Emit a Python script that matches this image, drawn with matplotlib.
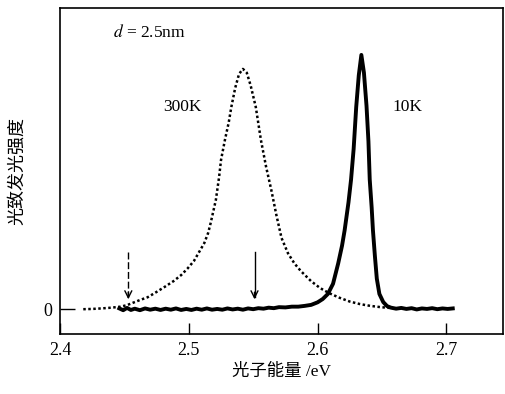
import numpy as np
import matplotlib.pyplot as plt

plt.rcParams['font.family'] = ['Liberation Serif', 'Noto Sans CJK SC']
plt.rcParams['mathtext.fontset'] = 'stix'

# 300K spectrum (dotted), intensity normalised to 10K peak
x_300 = [2.418, 2.425, 2.432, 2.44, 2.447, 2.452, 2.457, 2.462, 2.468, 2.474,
         2.481, 2.488, 2.494, 2.499, 2.504, 2.508, 2.512, 2.515, 2.517, 2.521,
         2.5235, 2.525, 2.528, 2.531, 2.533, 2.536, 2.539, 2.542, 2.545, 2.548,
         2.552, 2.556, 2.560, 2.564, 2.568, 2.572, 2.577, 2.582, 2.587, 2.595,
         2.602, 2.609, 2.617, 2.625, 2.633, 2.641, 2.649, 2.656]
y_300 = [0.000, 0.001, 0.003, 0.006, 0.010, 0.016, 0.026, 0.036, 0.047, 0.065,
         0.087, 0.110, 0.134, 0.160, 0.190, 0.225, 0.260, 0.300, 0.340, 0.430,
         0.520, 0.587, 0.665, 0.735, 0.795, 0.870, 0.925, 0.945, 0.930, 0.880,
         0.795, 0.665, 0.560, 0.470, 0.370, 0.280, 0.220, 0.180, 0.150, 0.110,
         0.083, 0.063, 0.045, 0.030, 0.020, 0.013, 0.008, 0.005]

# 10K spectrum (solid, noisy baseline)
x_10 = [2.446, 2.449, 2.452, 2.455, 2.458, 2.462, 2.466, 2.470, 2.474, 2.478,
        2.482, 2.486, 2.490, 2.494, 2.498, 2.502, 2.506, 2.510, 2.514, 2.518,
        2.522, 2.526, 2.530, 2.534, 2.538, 2.542, 2.546, 2.550, 2.554, 2.558,
        2.562, 2.566, 2.570, 2.575, 2.580, 2.585, 2.590, 2.595, 2.600, 2.604,
        2.608, 2.612, 2.616, 2.619, 2.621, 2.624, 2.626, 2.628, 2.630, 2.632,
        2.634, 2.636, 2.638, 2.6395, 2.6405, 2.642, 2.643, 2.6445, 2.646, 2.648,
        2.651, 2.654, 2.657, 2.661, 2.665, 2.669, 2.673, 2.677, 2.681, 2.685,
        2.689, 2.693, 2.697, 2.701, 2.705]
y_10 = [0.003, -0.004, 0.005, -0.003, 0.002, -0.004, 0.003, -0.002, 0.002, -0.003,
        0.002, -0.002, 0.003, -0.003, 0.001, -0.003, 0.002, -0.002, 0.003, -0.002,
        0.001, -0.002, 0.003, -0.001, 0.002, -0.002, 0.003, 0.000, 0.004, 0.002,
        0.006, 0.004, 0.008, 0.007, 0.010, 0.010, 0.013, 0.017, 0.027, 0.040,
        0.060, 0.100, 0.180, 0.250, 0.310, 0.420, 0.510, 0.630, 0.795, 0.920,
        1.000, 0.930, 0.800, 0.660, 0.510, 0.400, 0.310, 0.210, 0.120, 0.060,
        0.028, 0.012, 0.006, 0.002, 0.005, 0.001, 0.004, -0.001, 0.003, 0.001,
        0.004, 0.000, 0.003, 0.001, 0.003]

arrow_x = [2.453, 2.551]
arrow_styles = ['--', '-']
arrow_top = 0.225
arrow_tip = 0.028

xticks = [2.4, 2.5, 2.6, 2.7]

fig = plt.figure(figsize=(5.05, 3.94), dpi=100)
ax = fig.add_axes([0.119, 0.152, 0.877, 0.828])

ax.plot(x_300, y_300, color='black', linestyle=(0, (1, 1)), linewidth=1.8)
ax.plot(x_10, y_10, color='black', linewidth=2.8, solid_joinstyle='round')

for xa, ls in zip(arrow_x, arrow_styles):
    ax.plot([xa, xa], [arrow_top, arrow_tip + 0.02], color='black',
            linestyle=ls, linewidth=1.0, dashes=(5, 2) if ls == '--' else ())
    ax.annotate('', xy=(xa, arrow_tip), xytext=(xa, arrow_tip + 0.05),
                arrowprops=dict(arrowstyle='->,head_length=0.5,head_width=0.25',
                                color='black', lw=1.0))

ax.text(2.441, 1.087, r'$d$ = 2.5nm', fontsize=12.5, va='center', ha='left')
ax.text(2.495, 0.795, '300K', fontsize=12.5, va='center', ha='center')
ax.text(2.670, 0.795, '10K', fontsize=12.5, va='center', ha='center')

ax.set_xlim(2.4, 2.744)
ax.set_ylim(-0.098, 1.185)
ax.set_xticks(xticks)
ax.set_xticklabels([f'{t:.1f}' for t in xticks])
ax.set_yticks([0])
ax.set_yticklabels(['0'])
ax.tick_params(direction='in', length=8, width=1.0, labelsize=13, pad=6)
ax.tick_params(axis='y', length=11)

ax.set_xlabel('光子能量 /eV', fontsize=12.5, labelpad=3)
ax.set_ylabel('光致发光强度', fontsize=13, labelpad=12)
for sp in ax.spines.values():
    sp.set_linewidth(1.2)

fig.savefig('out.png', dpi=100)
